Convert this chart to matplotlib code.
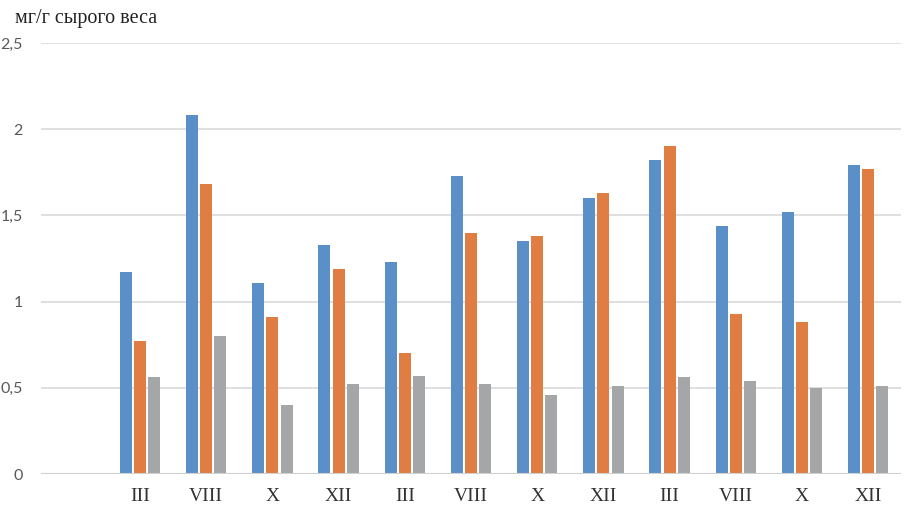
import matplotlib
matplotlib.use("Agg")
import matplotlib.pyplot as plt
import numpy as np

categories = ["", "III", "VIII", "X", "XII", "III", "VIII", "X", "XII", "III", "VIII", "X", "XII"]
series_blue = [np.nan, 1.17, 2.08, 1.11, 1.33, 1.23, 1.73, 1.35, 1.60, 1.82, 1.44, 1.52, 1.79]
series_orange = [np.nan, 0.77, 1.68, 0.91, 1.19, 0.70, 1.40, 1.38, 1.63, 1.90, 0.93, 0.88, 1.77]
series_grey = [np.nan, 0.56, 0.80, 0.40, 0.52, 0.57, 0.52, 0.46, 0.51, 0.56, 0.54, 0.50, 0.51]
y_ticks = [0, 0.5, 1, 1.5, 2, 2.5]
y_ticklabels = ["0", "0,5", "1", "1,5", "2", "2,5"]
y_title = "мг/г сырого веса"

fig = plt.figure(figsize=(9.05, 5.05), dpi=100)
ax = fig.add_axes([40.7 / 905, 31 / 505, 860.6 / 905, 431 / 505])

x = np.arange(len(categories))
w = 0.18
step = 0.215
colors = ["#5B8FC7", "#E07D43", "#A5A6A8"]
for off, vals, c in zip([-step, 0, step], [series_blue, series_orange, series_grey], colors):
    ax.bar(x + off, vals, width=w, color=c, zorder=3)

ax.set_xlim(-0.5, len(categories) - 0.5)
ax.set_ylim(0, 2.5)
ax.set_yticks(y_ticks)
ax.set_yticklabels(y_ticklabels, family="Lato", fontsize=11.5, color="#595959")
ax.set_xticks(x)
ax.set_xticklabels(categories, family="Liberation Serif", fontsize=14, color="#333333")
ax.tick_params(axis="y", length=0, pad=13)
ax.tick_params(axis="x", length=0, pad=10)
for s in ax.spines.values():
    s.set_visible(False)
ax.grid(axis="y", color="#D9D9D9", linewidth=1.2, zorder=0)
ax.axhline(0, color="#D0D0D0", linewidth=1.5, zorder=4)

fig.text(15 / 905, 1 - 23 / 505, y_title, family="Liberation Serif", fontsize=14.5,
         color="#222222", ha="left", va="baseline")

fig.savefig("out.png", dpi=100)
